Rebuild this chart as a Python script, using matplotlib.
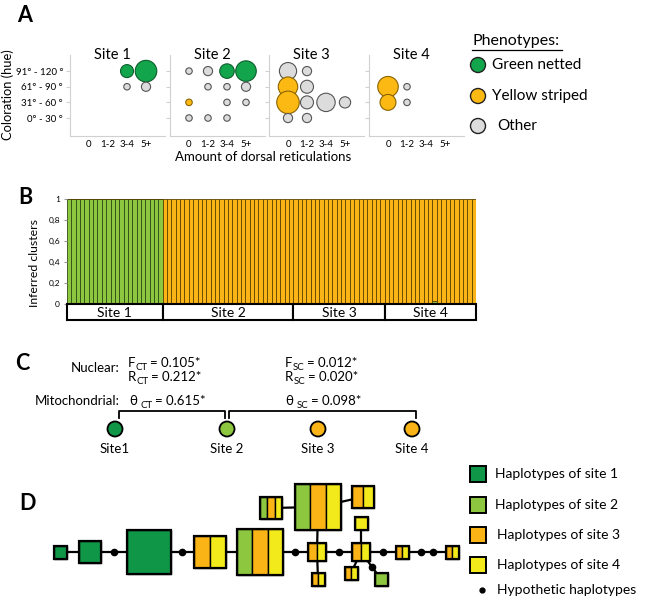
import matplotlib
matplotlib.use('Agg')
import matplotlib.pyplot as plt
import numpy as np
from matplotlib.patches import Rectangle, Circle

plt.rcParams['font.family'] = ['Lato', 'DejaVu Sans']

# ---------------- data ----------------
site_names = ['Site 1', 'Site 2', 'Site 3', 'Site 4']
reticulation_labels = ['0', '1-2', '3-4', '5+']
hue_labels = ['0° - 30 °', '31° - 60 °', '61° - 90 °', '91° - 120 °']
phenotype_labels = ['Green netted', 'Yellow striped', 'Other']

# Panel A: bubbles (reticulation class index, hue class index, count, phenotype)
site1_ret = [2, 3, 2, 3]
site1_hue = [3, 3, 2, 2]
site1_cnt = [4, 11, 1, 2]
site1_phe = ['G', 'G', 'O', 'O']
site2_ret = [0, 1, 2, 3, 1, 2, 3, 0, 2, 3, 0, 1, 2]
site2_hue = [3, 3, 3, 3, 2, 2, 2, 1, 1, 1, 0, 0, 0]
site2_cnt = [1, 2, 5, 10, 1, 1, 2, 1, 1, 1, 1, 1, 1]
site2_phe = ['O', 'O', 'G', 'G', 'O', 'O', 'O', 'Y', 'O', 'O', 'O', 'O', 'O']
site3_ret = [0, 1, 0, 1, 0, 1, 2, 3, 0, 1]
site3_hue = [3, 3, 2, 2, 1, 1, 1, 1, 0, 0]
site3_cnt = [7, 2, 9, 4, 12, 4, 8, 3, 2, 2]
site3_phe = ['O', 'O', 'Y', 'O', 'Y', 'O', 'O', 'O', 'O', 'O']
site4_ret = [0, 1, 0, 1]
site4_hue = [2, 2, 1, 1]
site4_cnt = [10, 1, 6, 1]
site4_phe = ['Y', 'O', 'Y', 'O']

# Panel B: individuals per site and membership to the "green" cluster
structure_n = [22, 30, 21, 21]
green_membership = ([1.0] * 22 + [0.0] * 30 + [0.0] * 21 +
                    [0.0] * 11 + [0.03] + [0.0] * 9)
cluster_ticks = [0, 0.2, 0.4, 0.6, 0.8, 1]
cluster_ticklabels = ['0', '0,2', '0,4', '0,6', '0,8', '1']

# Panel C: differentiation statistics
nuclear_ct = [('F', 'CT', '0.105*'), ('R', 'CT', '0.212*')]
nuclear_sc = [('F', 'SC', '0.012*'), ('R', 'SC', '0.020*')]
mito_ct = ('CT', '0.615*')
mito_sc = ('SC', '0.098*')
panelC_sites = ['Site1', 'Site 2', 'Site 3', 'Site 4']
panelC_cluster = ['1', '2', '3', '3']

# Panel D: haplotype network (sites represented, number of haplotypes)
node_sites = ['1', '1', '1', '34', '234', '34', '234', '234', '34', '34',
              '34', '4', '34', '2', '34', '34']
node_counts = [1, 3, 11, 6, 12, 2, 12, 3, 3, 1, 2, 1, 1, 1, 1, 1]
# edges: (node a, node b, number of hypothetic haplotypes in between)
edges = [(0, 1, 0), (1, 2, 1), (2, 3, 1), (3, 4, 0), (4, 5, 1), (5, 6, 0),
         (6, 7, 0), (6, 8, 0), (5, 9, 0), (5, 10, 1), (10, 11, 0),
         (10, 12, 0), (10, 13, 1), (10, 14, 1), (14, 15, 2)]
legendD_labels = ['Haplotypes of site 1', 'Haplotypes of site 2',
                  'Haplotypes of site 3', 'Haplotypes of site 4',
                  'Hypothetic haplotypes']

# ---------------- layout / style ----------------
W, H = 646, 601
fig = plt.figure(figsize=(W / 100, H / 100), dpi=100)


def px_axes(l, t, r, b):
    return fig.add_axes([l / W, 1 - b / H, (r - l) / W, (b - t) / H])


GREEN_A = '#13a54b'
YELLOW_A = '#fdb913'
GRAY_A = '#dcdcdc'
pheno_face = {'G': GREEN_A, 'Y': YELLOW_A, 'O': GRAY_A}
pheno_edge = {'G': '#0d5e2c', 'Y': '#8a6400', 'O': '#555555'}
site_col = {'1': '#0f9646', '2': '#8dc63f', '3': '#fbb416', '4': '#f3ea1c'}
cluster_col = {'1': '#0f9646', '2': '#8dc63f', '3': '#fbb416'}

# ---------------- Panel A ----------------
panelA = [(site1_ret, site1_hue, site1_cnt, site1_phe),
          (site2_ret, site2_hue, site2_cnt, site2_phe),
          (site3_ret, site3_hue, site3_cnt, site3_phe),
          (site4_ret, site4_hue, site4_cnt, site4_phe)]
lefts = [70, 170, 269, 369]
for i, (rx, hy, cn, ph) in enumerate(panelA):
    ax = px_axes(lefts[i], 55, lefts[i] + 95, 136)
    ax.scatter(rx, hy, s=[21.9 * c for c in cn],
               c=[pheno_face[p] for p in ph],
               edgecolors=[pheno_edge[p] for p in ph],
               linewidths=0.8, zorder=3, clip_on=False)
    ax.set_xlim(-1, 4)
    ax.set_ylim(-1.15, 4.03)
    for s in ['top', 'right']:
        ax.spines[s].set_visible(False)
    for s in ['left', 'bottom']:
        ax.spines[s].set_color('#d0d0d0')
        ax.spines[s].set_linewidth(0.8)
    ax.set_xticks(range(4))
    ax.set_xticklabels(reticulation_labels, fontsize=7)
    ax.set_yticks(range(4))
    if i == 0:
        ax.set_yticklabels(hue_labels, fontsize=7)
    else:
        ax.set_yticklabels([])
    ax.tick_params(axis='x', length=0, pad=3)
    ax.tick_params(axis='y', length=3, color='#d0d0d0', pad=2)
    ax.text(0.45, 1.0, site_names[i], transform=ax.transAxes,
            ha='center', va='center', fontsize=10.5)

# ---------------- Panel B ----------------
axb = px_axes(67, 199, 476, 304)
n_total = len(green_membership)
xb = np.arange(n_total) + 0.5
green = np.array(green_membership)
orange = 1 - green
axb.bar(xb, green, width=1.0, color=cluster_col['2'], edgecolor='#2f4a14',
        linewidth=0.6)
axb.bar(xb, orange, bottom=green, width=1.0, color=cluster_col['3'],
        edgecolor='#5c4400', linewidth=0.6)
axb.set_xlim(0, n_total)
axb.set_ylim(0, 1)
for s in axb.spines.values():
    s.set_visible(False)
axb.set_xticks([])
axb.set_yticks(cluster_ticks)
axb.set_yticklabels(cluster_ticklabels, fontsize=6)
axb.tick_params(axis='y', length=2, color='#999999', pad=3)

axs = px_axes(67, 304, 476, 320)
axs.set_xlim(0, n_total)
axs.set_ylim(0, 1)
axs.axis('off')
start = 0
for name, n in zip(site_names, structure_n):
    axs.add_patch(Rectangle((start, 0), n, 1, facecolor='white',
                            edgecolor='black', linewidth=1.5, clip_on=False))
    axs.text(start + n / 2, 0.45, name, ha='center', va='center', fontsize=10)
    start += n

# ---------------- overlay (pixel coordinates) ----------------
ov = fig.add_axes([0, 0, 1, 1])
ov.set_xlim(0, W)
ov.set_ylim(H, 0)
ov.axis('off')

# panel letters
for letter, (x, y) in zip('ABCD', [(17, 16), (18, 198), (15, 364), (19, 504)]):
    ov.text(x, y, letter, fontsize=15.5, fontweight='bold', va='center',
            ha='left')

# Panel A labels
ov.text(8, 95, 'Coloration (hue)', rotation=90, ha='center', va='center',
        fontsize=9.3)
ov.text(263, 157, 'Amount of dorsal reticulations', ha='center', va='center',
        fontsize=9.5)
ov.text(472, 41, 'Phenotypes:', ha='left', va='center', fontsize=11.5)
ov.plot([472, 562], [50, 50], color='black', lw=0.9)
leg_y = [65, 96, 126]
leg_keys = ['G', 'Y', 'O']
leg_tx = [492, 492, 497]
for y, k, lab, tx in zip(leg_y, leg_keys, phenotype_labels, leg_tx):
    ov.add_patch(Circle((478, y), 7.5, facecolor=pheno_face[k],
                        edgecolor='#222222', linewidth=1.0))
    ov.text(tx, y, lab, ha='left', va='center', fontsize=11)

# Panel B label
ov.text(34, 263, 'Inferred clusters', rotation=90, ha='center', va='center',
        fontsize=8.8)

# ---------------- Panel C ----------------
fsC = 9.5
fsSub = 7.0


def stat_text(x, y, main, sub, rest, gap=0.0):
    t1 = ov.text(x, y, main, ha='left', va='baseline', fontsize=fsC)
    t2 = ov.annotate(sub, xy=(1, 0), xycoords=t1, xytext=(gap, -2.2),
                     textcoords='offset points', ha='left', va='bottom',
                     fontsize=fsSub)
    ov.annotate(rest, xy=(1, 0), xycoords=(t2, t1), xytext=(1.8, 0),
                textcoords='offset points', ha='left', va='bottom',
                fontsize=fsC)


ov.text(120, 368, 'Nuclear:', ha='right', va='center', fontsize=fsC)
for j, (L, sub, val) in enumerate(nuclear_ct):
    stat_text(128, 367 + 14 * j, L, sub, '= ' + val)
for j, (L, sub, val) in enumerate(nuclear_sc):
    stat_text(285, 367 + 14 * j, L, sub, '= ' + val)
ov.text(120, 401, 'Mitochondrial:', ha='right', va='center', fontsize=fsC)
stat_text(129, 405, 'θ', mito_ct[0], '= ' + mito_ct[1], gap=2.5)
stat_text(285, 405, 'θ', mito_sc[0], '= ' + mito_sc[1], gap=2.5)
ov.plot([119, 119, 225, 225], [418, 411, 411, 418], color='black', lw=1.3)
ov.plot([229, 229, 416, 416], [418, 411, 411, 418], color='black', lw=1.3)
c_x = [115, 227, 318, 412]
for x, lab, cl in zip(c_x, panelC_sites, panelC_cluster):
    ov.add_patch(Circle((x, 429), 7.5, facecolor=cluster_col[cl],
                        edgecolor='black', linewidth=1.3, zorder=3))
    ov.text(x, 449, lab, ha='center', va='center', fontsize=fsC)

# ---------------- Panel D ----------------
node_pos = [(60, 552), (90, 552), (149, 552), (210, 552), (260, 552),
            (317, 552), (318, 507), (271, 508), (363, 497), (318, 579),
            (361, 552), (361, 523), (351, 573), (381, 579), (402, 552),
            (452, 552)]
unit = 13.0
sides = [unit * np.sqrt(c) for c in node_counts]


def border_point(p, half, d):
    m = max(abs(d[0]), abs(d[1]))
    return np.array(p) + d * (half / m)


for a, b, nh in edges:
    pa, pb = np.array(node_pos[a], float), np.array(node_pos[b], float)
    ov.plot([pa[0], pb[0]], [pa[1], pb[1]], color='black', lw=1.6, zorder=2)
    if nh:
        d = (pb - pa) / np.linalg.norm(pb - pa)
        s0 = border_point(pa, sides[a] / 2, d)
        s1 = border_point(pb, sides[b] / 2, -d)
        for k in range(1, nh + 1):
            q = s0 + (s1 - s0) * k / (nh + 1)
            ov.plot(q[0], q[1], 'o', color='black', ms=4.5, zorder=4)

for (cx, cy), st, side in zip(node_pos, node_sites, sides):
    x0, y0 = cx - side / 2, cy - side / 2
    w = side / len(st)
    for k, sname in enumerate(st):
        ov.add_patch(Rectangle((x0 + k * w, y0), w, side,
                               facecolor=site_col[sname], edgecolor='black',
                               linewidth=1.0, zorder=5))
    ov.add_patch(Rectangle((x0, y0), side, side, facecolor='none',
                           edgecolor='black', linewidth=1.6, zorder=6))

legD_y = [474, 505, 535, 565]
legD_tx = [495, 495, 497, 497]
for y, sname, lab, tx in zip(legD_y, '1234', legendD_labels[:4], legD_tx):
    ov.add_patch(Rectangle((469.5, y - 8), 16, 16, facecolor=site_col[sname],
                           edgecolor='black', linewidth=1.4))
    ov.text(tx, y, lab, ha='left', va='center', fontsize=10)
ov.plot(482, 590, 'o', color='black', ms=3.5)
ov.text(497, 590, legendD_labels[4], ha='left', va='center', fontsize=10)

fig.savefig('out.png', dpi=100)
